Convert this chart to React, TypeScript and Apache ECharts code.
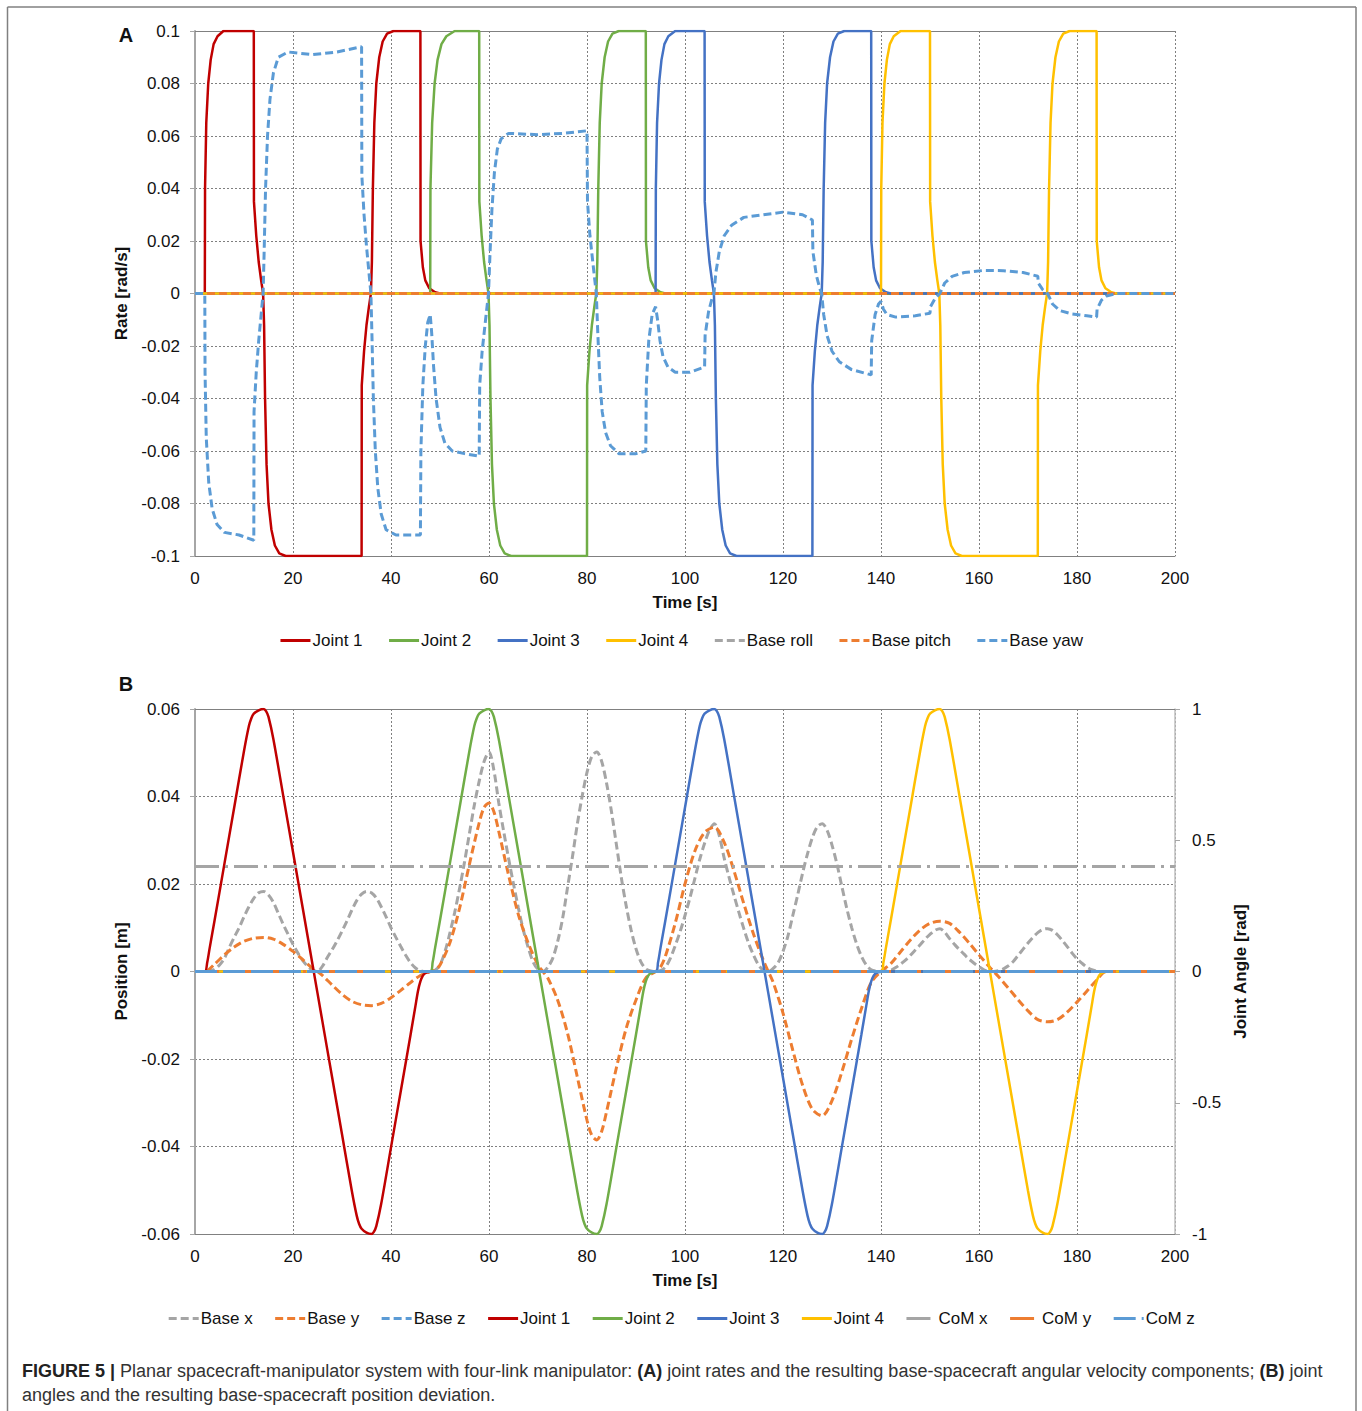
import React, { useEffect, useRef } from "react";
import * as echarts from "echarts";

const FONT = "'Liberation Sans', Arial, sans-serif";

// ---------- Panel A: joint rates [rad/s] and base angular velocity ----------
const timeTicks = [0, 20, 40, 60, 80, 100, 120, 140, 160, 180, 200];

const joint1Rate = [[0,0],[2,0],[2.05,0.04],[2.3,0.065],[2.7,0.08],[3.2,0.089],[3.8,0.095],[4.6,0.098],[5.8,0.1],[12,0.1],[12.03,0.035],[12.5,0.022],[13,0.012],[13.5,0.005],[13.9,0],[14.1,-0.012],[14.3,-0.04],[14.6,-0.065],[15,-0.08],[15.6,-0.09],[16.3,-0.096],[17.2,-0.099],[18.5,-0.1],[34,-0.1],[34.03,-0.035],[34.5,-0.022],[35,-0.012],[35.5,-0.005],[35.9,0],[36.1,0.012],[36.3,0.04],[36.6,0.065],[37,0.08],[37.6,0.09],[38.3,0.096],[39.2,0.099],[40.5,0.1],[46,0.1],[46.03,0.02],[46.5,0.01],[47,0.005],[47.8,0.002],[49,0.0005],[50,0],[200,0]];
const joint2Rate = [[0,0],[48,0],[48.05,0.04],[48.4,0.065],[48.9,0.08],[49.5,0.089],[50.3,0.095],[51.3,0.098],[53,0.1],[58,0.1],[58.03,0.035],[58.5,0.022],[59,0.012],[59.5,0.005],[59.9,0],[60.1,-0.012],[60.3,-0.04],[60.6,-0.065],[61,-0.08],[61.6,-0.09],[62.3,-0.096],[63.2,-0.099],[64.5,-0.1],[80,-0.1],[80.03,-0.035],[80.5,-0.022],[81,-0.012],[81.5,-0.005],[81.9,0],[82.1,0.012],[82.3,0.04],[82.6,0.065],[83,0.08],[83.6,0.09],[84.3,0.096],[85.2,0.099],[86.5,0.1],[92,0.1],[92.03,0.02],[92.5,0.01],[93,0.005],[93.8,0.002],[95,0.0005],[96,0],[200,0]];
const joint3Rate = [[0,0],[94,0],[94.05,0.04],[94.3,0.065],[94.7,0.08],[95.2,0.089],[95.8,0.095],[96.6,0.098],[98,0.1],[104,0.1],[104.03,0.035],[104.5,0.022],[105,0.012],[105.5,0.005],[105.9,0],[106.1,-0.012],[106.3,-0.04],[106.6,-0.065],[107,-0.08],[107.6,-0.09],[108.3,-0.096],[109.2,-0.099],[110.5,-0.1],[126,-0.1],[126.03,-0.035],[126.5,-0.022],[127,-0.012],[127.5,-0.005],[127.9,0],[128.1,0.012],[128.3,0.04],[128.6,0.065],[129,0.08],[129.6,0.09],[130.3,0.096],[131.2,0.099],[132.5,0.1],[138,0.1],[138.03,0.02],[138.5,0.01],[139,0.005],[139.8,0.002],[141,0.0005],[142,0],[200,0]];
const joint4Rate = [[0,0],[140,0],[140.05,0.04],[140.3,0.065],[140.7,0.08],[141.2,0.089],[141.8,0.095],[142.6,0.098],[144,0.1],[150,0.1],[150.03,0.035],[150.5,0.022],[151,0.012],[151.5,0.005],[151.9,0],[152.1,-0.012],[152.3,-0.04],[152.6,-0.065],[153,-0.08],[153.6,-0.09],[154.3,-0.096],[155.2,-0.099],[156.5,-0.1],[172,-0.1],[172.03,-0.035],[172.5,-0.022],[173,-0.012],[173.5,-0.005],[173.9,0],[174.1,0.012],[174.3,0.04],[174.6,0.065],[175,0.08],[175.6,0.09],[176.3,0.096],[177.2,0.099],[178.5,0.1],[184,0.1],[184.03,0.02],[184.5,0.01],[185,0.005],[185.8,0.002],[187,0.0005],[188,0],[200,0]];
const baseRoll = [[0,0],[200,0]];
const basePitch = [[0,0],[200,0]];
const baseYaw = [[0,0],[2,0],[2.05,-0.03],[2.3,-0.055],[2.8,-0.072],[3.5,-0.082],[4.5,-0.088],[6,-0.091],[9,-0.092],[12,-0.094],
[12.05,-0.045],[12.5,-0.03],[13,-0.018],[13.5,-0.008],[13.9,0],[14.1,0.015],[14.4,0.04],[14.8,0.06],[15.3,0.074],[16,0.084],[17,0.09],[19,0.092],[24,0.091],[29,0.092],[34,0.094],
[34.05,0.045],[34.5,0.03],[35,0.018],[35.5,0.008],[35.9,0],[36.1,-0.015],[36.4,-0.04],[36.8,-0.06],[37.3,-0.074],[38,-0.084],[39,-0.09],[41,-0.092],[46,-0.092],
[46.1,-0.06],[46.5,-0.035],[47,-0.02],[47.5,-0.011],[48,-0.008],[48.3,-0.015],[48.7,-0.028],[49.2,-0.04],[50,-0.051],[51,-0.057],[52.5,-0.06],[55,-0.061],[58,-0.062],
[58.1,-0.035],[58.6,-0.022],[59.3,-0.01],[59.9,0],[60.2,0.015],[60.6,0.032],[61.1,0.046],[61.7,0.055],[62.5,0.059],[64,0.061],[70,0.0605],[75,0.061],[80,0.062],
[80.1,0.035],[80.6,0.022],[81.3,0.01],[81.9,0],[82.2,-0.015],[82.6,-0.032],[83.1,-0.045],[83.8,-0.053],[84.8,-0.058],[86.5,-0.061],[90,-0.061],[92,-0.06],
[92.1,-0.035],[92.6,-0.018],[93.3,-0.008],[94,-0.005],[94.4,-0.01],[94.9,-0.018],[95.5,-0.024],[96.5,-0.028],[98,-0.03],[101,-0.03],[104,-0.028],
[104.1,-0.016],[104.8,-0.007],[105.5,-0.002],[105.9,0],[106.3,0.008],[107,0.016],[108,0.022],[109.5,0.026],[112,0.029],[116,0.03],[120,0.031],[124,0.03],[126,0.028],
[126.1,0.016],[126.8,0.007],[127.5,0.002],[127.9,0],[128.3,-0.008],[129,-0.016],[130,-0.022],[131.5,-0.026],[134,-0.029],[138,-0.031],
[138.1,-0.018],[138.8,-0.008],[139.5,-0.004],[140,-0.003],[140.5,-0.006],[141.2,-0.008],[143,-0.009],[147,-0.0085],[150,-0.0075],
[150.1,-0.005],[151,-0.002],[152,0],[153,0.004],[154.5,0.0065],[157,0.008],[161,0.0088],[165,0.0087],[169,0.008],[172,0.0066],
[172.1,0.004],[173,0.0015],[174,0],[175,-0.004],[176.5,-0.0065],[179,-0.0078],[182,-0.0085],[184,-0.009],
[184.1,-0.006],[185,-0.0025],[186,-0.001],[188,0],[200,0]];

// ---------- Panel B: joint angles [rad] and base position [m] ----------
const joint1Angle = [[0,0],[2,0],[2.5,0.035],[3,0.09],[4,0.195],[6,0.41],[8,0.625],[10,0.84],[11,0.935],[11.5,0.965],[12,0.982],[13,0.995],[14,1.0],[14.5,0.992],[15,0.97],[16,0.885],[18,0.67],[20,0.455],[22,0.24],[24,0.025],[26,-0.19],[28,-0.405],[30,-0.62],[32,-0.835],[33,-0.93],[33.5,-0.962],[34,-0.98],[35,-0.995],[36,-1],[36.5,-0.992],[37,-0.97],[38,-0.885],[40,-0.67],[42,-0.455],[44,-0.24],[45,-0.13],[45.5,-0.075],[46,-0.038],[46.5,-0.016],[47,-0.006],[48,-0.001],[49,0],[200,0]];
const joint2Angle = [[0,0],[48,0],[48.5,0.035],[49,0.09],[50,0.195],[52,0.41],[54,0.625],[56,0.84],[57,0.935],[57.5,0.965],[58,0.982],[59,0.995],[60,1],[60.5,0.992],[61,0.97],[62,0.885],[64,0.67],[66,0.455],[68,0.24],[70,0.025],[72,-0.19],[74,-0.405],[76,-0.62],[78,-0.835],[79,-0.93],[79.5,-0.962],[80,-0.98],[81,-0.995],[82,-1],[82.5,-0.992],[83,-0.97],[84,-0.885],[86,-0.67],[88,-0.455],[90,-0.24],[91,-0.13],[91.5,-0.075],[92,-0.038],[92.5,-0.016],[93,-0.006],[94,-0.001],[95,0],[200,0]];
const joint3Angle = [[0,0],[94,0],[94.5,0.035],[95,0.09],[96,0.195],[98,0.41],[100,0.625],[102,0.84],[103,0.935],[103.5,0.965],[104,0.982],[105,0.995],[106,1],[106.5,0.992],[107,0.97],[108,0.885],[110,0.67],[112,0.455],[114,0.24],[116,0.025],[118,-0.19],[120,-0.405],[122,-0.62],[124,-0.835],[125,-0.93],[125.5,-0.962],[126,-0.98],[127,-0.995],[128,-1],[128.5,-0.992],[129,-0.97],[130,-0.885],[132,-0.67],[134,-0.455],[136,-0.24],[137,-0.13],[137.5,-0.075],[138,-0.038],[138.5,-0.016],[139,-0.006],[140,-0.001],[141,0],[200,0]];
const joint4Angle = [[0,0],[140,0],[140.5,0.035],[141,0.09],[142,0.195],[144,0.41],[146,0.625],[148,0.84],[149,0.935],[149.5,0.965],[150,0.982],[151,0.995],[152,1],[152.5,0.992],[153,0.97],[154,0.885],[156,0.67],[158,0.455],[160,0.24],[162,0.025],[164,-0.19],[166,-0.405],[168,-0.62],[170,-0.835],[171,-0.93],[171.5,-0.962],[172,-0.98],[173,-0.995],[174,-1],[174.5,-0.992],[175,-0.97],[176,-0.885],[178,-0.67],[180,-0.455],[182,-0.24],[183,-0.13],[183.5,-0.075],[184,-0.038],[184.5,-0.016],[185,-0.006],[186,-0.001],[187,0],[200,0]];

const baseX = [[0,0],[2,0],[3,0.0001],[4,0.0005],[5,0.0015],[6,0.003],[7,0.0055],[8,0.0078],[9,0.01],[10,0.0125],[11,0.0148],[12,0.0167],[13,0.018],[14,0.0183],[15,0.0175],[16,0.0158],[17,0.0133],[18,0.0108],[19,0.0085],[20,0.0062],[21,0.0042],[22,0.0025],[23,0.0012],[24,0.0003],[25,0],
[26,0.0012],[27,0.0032],[28,0.005],[29,0.007],[30,0.0092],[31,0.0115],[32,0.014],[33,0.0162],[34,0.0177],[35,0.0183],[36,0.018],[37,0.0168],[38,0.0148],[39,0.0125],[40,0.01],[41,0.0078],[42,0.0057],[43,0.0037],[44,0.002],[45,0.0008],[46,0.0002],[47,0],[48,0],
[49,0.0003],[50,0.0015],[51,0.0045],[52,0.0087],[53,0.0135],[54,0.019],[55,0.025],[56,0.0315],[57,0.038],[58,0.0435],[59,0.048],[60,0.0502],[61,0.046],[62,0.0385],[63,0.032],[64,0.0258],[65,0.02],[66,0.0145],[67,0.0095],[68,0.0055],[69,0.0022],[70,0.0005],[71,0],
[72,0.001],[73,0.003],[74,0.0068],[75,0.012],[76,0.019],[77,0.026],[78,0.0335],[79,0.04],[80,0.0455],[81,0.0492],[82,0.0502],[83,0.048],[84,0.043],[85,0.0365],[86,0.029],[87,0.0215],[88,0.015],[89,0.0095],[90,0.0052],[91,0.0022],[92,0.0006],[93,0.0001],[94,0],
[95,0.0002],[96,0.001],[97,0.003],[98,0.0059],[99,0.0091],[100,0.0128],[101,0.0168],[102,0.0212],[103,0.0256],[104,0.0293],[105,0.0323],[106,0.0338],[107,0.031],[108,0.0259],[109,0.0215],[110,0.0174],[111,0.0135],[112,0.0098],[113,0.0064],[114,0.0037],[115,0.0015],[116,0.0003],[117,0],
[118,0.0007],[119,0.002],[120,0.0046],[121,0.0081],[122,0.0128],[123,0.0175],[124,0.0225],[125,0.0269],[126,0.0306],[127,0.0331],[128,0.0338],[129,0.0323],[130,0.0289],[131,0.0246],[132,0.0195],[133,0.0145],[134,0.0101],[135,0.0064],[136,0.0035],[137,0.0015],[138,0.0004],[139,0.0001],[140,0],
[141,0.0001],[142,0.0003],[143,0.0009],[144,0.0017],[145,0.0026],[146,0.0037],[147,0.0049],[148,0.0061],[149,0.0074],[150,0.0085],[151,0.0094],[152,0.0098],[153,0.009],[154,0.0075],[155,0.0062],[156,0.005],[157,0.0039],[158,0.0028],[159,0.0019],[160,0.0011],[161,0.0004],[162,0.0001],[163,0],
[164,0.0002],[165,0.0006],[166,0.0013],[167,0.0023],[168,0.0037],[169,0.0051],[170,0.0065],[171,0.0078],[172,0.0089],[173,0.0096],[174,0.0098],[175,0.0094],[176,0.0084],[177,0.0071],[178,0.0057],[179,0.0042],[180,0.0029],[181,0.0019],[182,0.001],[183,0.0004],[184,0.0001],[185,0],[200,0]];

const baseY = [[0,0],[2,0],[4,0.0017],[6,0.0038],[8,0.0056],[10,0.0069],[12,0.0076],[14,0.0078],[16,0.0074],[18,0.0062],[20,0.0046],[22,0.0027],[24,0.0007],[25,0],[26,-0.0009],[28,-0.0031],[30,-0.0052],[32,-0.0068],[34,-0.0076],[36,-0.0078],[38,-0.0073],[40,-0.006],[42,-0.0043],[44,-0.0025],[46,-0.0009],[48,0],
[49,0.0003],[50,0.0015],[52,0.0065],[54,0.0145],[56,0.0245],[58,0.034],[59,0.0375],[60,0.0385],[61,0.0365],[62,0.032],[64,0.022],[66,0.013],[68,0.0065],[70,0.0015],[71,0],[72,-0.0015],[74,-0.0065],[76,-0.014],[78,-0.024],[80,-0.034],[81,-0.0375],[82,-0.0385],[83,-0.0365],[84,-0.032],[86,-0.022],[88,-0.013],[90,-0.0065],[92,-0.0015],[94,0],
[95,0.001],[96,0.0035],[98,0.011],[100,0.02],[102,0.0275],[104,0.0318],[106,0.033],[108,0.0295],[110,0.023],[112,0.0155],[114,0.0085],[116,0.0025],[117,0],[118,-0.0025],[120,-0.0095],[122,-0.018],[124,-0.026],[126,-0.0315],[128,-0.033],[130,-0.0295],[132,-0.023],[134,-0.0155],[136,-0.0085],[138,-0.0025],[140,0],
[142,0.0018],[144,0.0045],[146,0.0072],[148,0.0095],[150,0.011],[152,0.0115],[154,0.011],[156,0.009],[158,0.0065],[160,0.0038],[162,0.0012],[163,0],[164,-0.0012],[166,-0.0038],[168,-0.0065],[170,-0.009],[172,-0.011],[174,-0.0115],[176,-0.011],[178,-0.0093],[180,-0.007],[182,-0.0045],[184,-0.002],[186,0],[200,0]];
const baseZ = [[0,0],[200,0]];
const comX = [[0,0.024],[200,0.024]];
const comY = [[0,0],[200,0]];
const comZ = [[0,0],[200,0]];

const legendA = ["Joint 1", "Joint 2", "Joint 3", "Joint 4", "Base roll", "Base pitch", "Base yaw"];
const legendB = ["Base x", "Base y", "Base z", "Joint 1", "Joint 2", "Joint 3", "Joint 4", "CoM x", "CoM y", "CoM z"];

const C = {
  red: "#C00000",
  green: "#70AD47",
  blue: "#4472C4",
  yellow: "#FFC000",
  gray: "#A5A5A5",
  orange: "#ED7D31",
  lblue: "#5B9BD5",
};

const DASH = [8, 4];

function line(name: string, data: number[][], color: string, xi: number, yi: number, type: any, width = 2.5, smooth: any = false) {
  return {
    type: "line",
    name,
    data,
    xAxisIndex: xi,
    yAxisIndex: yi,
    symbol: "none",
    showSymbol: false,
    smooth,
    silent: true,
    lineStyle: { color, width, type, cap: "butt" },
    itemStyle: { color },
    emphasis: { disabled: true },
  };
}

const fmt = (v: number) => String(Math.round(v * 1000) / 1000);

export default function App() {
  const ref = useRef<HTMLDivElement>(null);
  useEffect(() => {
    if (!ref.current) return;
    const chart = echarts.init(ref.current, undefined, { renderer: "svg" });
    const gridLine = { show: true, lineStyle: { color: "#7f7f7f", type: [2, 2], width: 1 } };
    const label = { fontSize: 17, color: "#111", fontFamily: FONT };
    const nameStyle = { fontSize: 17, fontWeight: "bold", color: "#111", fontFamily: FONT };
    const xBottom = (gi: number) => ({
      type: "value",
      gridIndex: gi,
      min: 0,
      max: 200,
      interval: 20,
      position: "bottom",
      axisLine: { show: true, onZero: false, lineStyle: { color: "#808080", width: 1 } },
      axisTick: { show: false },
      axisLabel: { ...label, margin: 14, showMinLabel: true, showMaxLabel: true, formatter: (v: number) => (timeTicks.includes(v) ? String(v) : "") },
      splitLine: gridLine,
      name: "Time [s]",
      nameLocation: "middle",
      nameGap: 38,
      nameTextStyle: nameStyle,
    });
    const xTop = (gi: number) => ({
      type: "value",
      gridIndex: gi,
      min: 0,
      max: 200,
      position: "top",
      axisLine: { show: true, onZero: false, lineStyle: { color: "#808080", width: 1 } },
      axisTick: { show: false },
      axisLabel: { show: false },
      splitLine: { show: false },
    });
    const leftAxis = { show: true, onZero: false, lineStyle: { color: "#A6A6A6", width: 2 } };
    const tick = { show: true, length: 5, lineStyle: { color: "#A6A6A6" } };
    const legendCommon = {
      left: "center", itemWidth: 30, itemHeight: 14, selectedMode: false,
      itemStyle: { opacity: 0, borderWidth: 0 },
      lineStyle: { width: 3 },
      textStyle: { fontSize: 17, color: "#111", fontFamily: FONT, padding: [0, 0, 0, -3] },
    };

    const option: any = {
      animation: false,
      backgroundColor: "#fff",
      textStyle: { fontFamily: FONT },
      grid: [
        { left: 195, top: 31, width: 980, height: 525 },
        { left: 195, top: 709, width: 980, height: 525 },
      ],
      xAxis: [xBottom(0), xTop(0), xBottom(1), xTop(1)],
      yAxis: [
        {
          type: "value", gridIndex: 0, min: -0.1, max: 0.1, interval: 0.02, position: "left",
          axisLine: leftAxis, axisTick: tick,
          axisLabel: { ...label, margin: 15, formatter: fmt },
          splitLine: gridLine,
          name: "Rate [rad/s]", nameLocation: "middle", nameGap: 61, nameRotate: 90, nameTextStyle: nameStyle,
        },
        {
          type: "value", gridIndex: 1, min: -0.06, max: 0.06, interval: 0.02, position: "left",
          axisLine: leftAxis, axisTick: tick,
          axisLabel: { ...label, margin: 15, formatter: fmt },
          splitLine: gridLine,
          name: "Position [m]", nameLocation: "middle", nameGap: 61, nameRotate: 90, nameTextStyle: nameStyle,
        },
        {
          type: "value", gridIndex: 1, min: -1, max: 1, interval: 0.5, position: "right",
          axisLine: { show: true, onZero: false, lineStyle: { color: "#BFBFBF", width: 1.5 } }, axisTick: tick,
          axisLabel: { ...label, margin: 17, formatter: fmt },
          splitLine: { show: false },
          name: "Joint Angle [rad]", nameLocation: "middle", nameGap: 54, nameRotate: 90, nameTextStyle: nameStyle,
        },
      ],
      legend: [
        { ...legendCommon, data: legendA, top: 627, itemGap: 25 },
        { ...legendCommon, data: legendB, top: 1305, itemGap: 21 },
      ],
      series: [
        line("Joint 1", joint1Rate, C.red, 0, 0, "solid"),
        line("Joint 2", joint2Rate, C.green, 0, 0, "solid"),
        line("Joint 3", joint3Rate, C.blue, 0, 0, "solid"),
        line("Joint 4", joint4Rate, C.yellow, 0, 0, "solid"),
        line("Base roll", baseRoll, C.gray, 0, 0, DASH, 3),
        line("Base pitch", basePitch, C.orange, 0, 0, DASH, 3),
        line("Base yaw", baseYaw, C.lblue, 0, 0, DASH, 3),

        line("Base x", baseX, C.gray, 2, 1, DASH, 3, 0.3),
        line("Base y", baseY, C.orange, 2, 1, DASH, 3, 0.3),
        line("Base z", baseZ, C.lblue, 2, 1, DASH, 3),
        line("Joint 1", joint1Angle, C.red, 2, 2, "solid", 2.5, 0.3),
        line("Joint 2", joint2Angle, C.green, 2, 2, "solid", 2.5, 0.3),
        line("Joint 3", joint3Angle, C.blue, 2, 2, "solid", 2.5, 0.3),
        line("Joint 4", joint4Angle, C.yellow, 2, 2, "solid", 2.5, 0.3),
        line("CoM x", comX, C.gray, 2, 1, [24, 6, 3, 6], 3),
        line("CoM y", comY, C.orange, 2, 1, [24, 6, 3, 6], 3),
        line("CoM z", comZ, C.lblue, 2, 1, [22, 6], 3),
      ],
      graphic: [
        { type: "line", shape: { x1: 7.5, y1: 7, x2: 1356, y2: 7 }, style: { stroke: "#808080", lineWidth: 1.5 }, silent: true },
        { type: "line", shape: { x1: 7.5, y1: 7, x2: 7.5, y2: 1411 }, style: { stroke: "#808080", lineWidth: 1.5 }, silent: true },
        { type: "line", shape: { x1: 1356, y1: 7, x2: 1356, y2: 1411 }, style: { stroke: "#808080", lineWidth: 1.5 }, silent: true },
        { type: "text", x: 126, y: 35, style: { text: "A", fontSize: 20, fontWeight: "bold", fontFamily: FONT, fill: "#111", align: "center", verticalAlign: "middle" } },
        { type: "text", x: 126, y: 684, style: { text: "B", fontSize: 20, fontWeight: "bold", fontFamily: FONT, fill: "#111", align: "center", verticalAlign: "middle" } },
        {
          type: "text", x: 22, y: 1371,
          style: {
            text: "{b|FIGURE 5 |} Planar spacecraft-manipulator system with four-link manipulator: {b|(A)} joint rates and the resulting base-spacecraft angular velocity components; {b|(B)} joint",
            fontSize: 18, fontFamily: FONT, fill: "#333", verticalAlign: "middle", align: "left",
            rich: { b: { fontSize: 18, fontFamily: FONT, fontWeight: "bold", fill: "#222" } },
          },
        },
        {
          type: "text", x: 22, y: 1395,
          style: { text: "angles and the resulting base-spacecraft position deviation.", fontSize: 18, fontFamily: FONT, fill: "#333", verticalAlign: "middle", align: "left" },
        },
      ],
    };
    chart.setOption(option);
    return () => chart.dispose();
  }, []);
  return <div ref={ref} style={{ position: "absolute", left: 0, top: 0, width: 1362, height: 1411, background: "#fff" }} />;
}
